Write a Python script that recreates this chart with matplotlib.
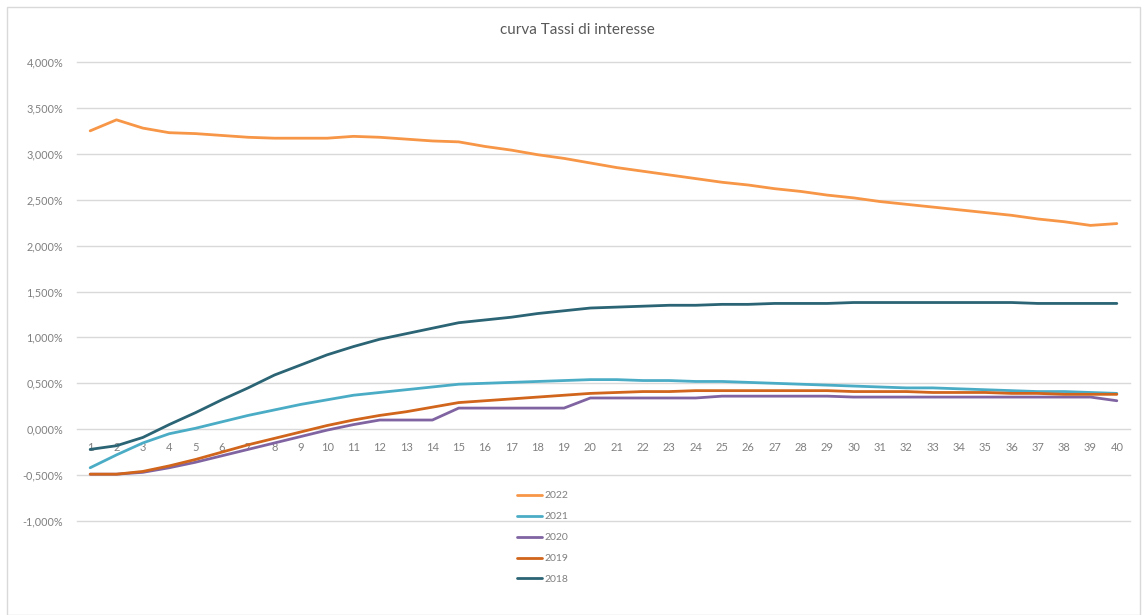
import matplotlib
matplotlib.use("Agg")
import matplotlib.pyplot as plt
import numpy as np
from matplotlib.ticker import FuncFormatter, MultipleLocator
from matplotlib.patches import Rectangle

plt.rcParams['font.family'] = ['Lato', 'DejaVu Sans']

# maturities 1..40
scadenze = list(range(1, 41))

tassi_2022 = [3.25, 3.37, 3.28, 3.23, 3.22, 3.20, 3.18, 3.17, 3.17, 3.17,
              3.19, 3.18, 3.16, 3.14, 3.13, 3.08, 3.04, 2.99, 2.95, 2.90,
              2.85, 2.81, 2.77, 2.73, 2.69, 2.66, 2.62, 2.59, 2.55, 2.52,
              2.48, 2.45, 2.42, 2.39, 2.36, 2.33, 2.29, 2.26, 2.22, 2.24]
tassi_2021 = [-0.42, -0.28, -0.15, -0.05, 0.01, 0.08, 0.15, 0.21, 0.27, 0.32,
              0.37, 0.40, 0.43, 0.46, 0.49, 0.50, 0.51, 0.52, 0.53, 0.54,
              0.54, 0.53, 0.53, 0.52, 0.52, 0.51, 0.50, 0.49, 0.48, 0.47,
              0.46, 0.45, 0.45, 0.44, 0.43, 0.42, 0.41, 0.41, 0.40, 0.39]
tassi_2020 = [-0.49, -0.49, -0.47, -0.42, -0.36, -0.29, -0.22, -0.15, -0.08, -0.01,
              0.05, 0.10, 0.10, 0.10, 0.23, 0.23, 0.23, 0.23, 0.23, 0.34,
              0.34, 0.34, 0.34, 0.34, 0.36, 0.36, 0.36, 0.36, 0.36, 0.35,
              0.35, 0.35, 0.35, 0.35, 0.35, 0.35, 0.35, 0.35, 0.35, 0.31]
tassi_2019 = [-0.49, -0.49, -0.46, -0.40, -0.33, -0.25, -0.17, -0.10, -0.03, 0.04,
              0.10, 0.15, 0.19, 0.24, 0.29, 0.31, 0.33, 0.35, 0.37, 0.39,
              0.40, 0.41, 0.41, 0.42, 0.42, 0.42, 0.42, 0.42, 0.42, 0.41,
              0.41, 0.41, 0.40, 0.40, 0.40, 0.39, 0.39, 0.38, 0.38, 0.38]
tassi_2018 = [-0.22, -0.18, -0.09, 0.05, 0.18, 0.32, 0.45, 0.59, 0.70, 0.81,
              0.90, 0.98, 1.04, 1.10, 1.16, 1.19, 1.22, 1.26, 1.29, 1.32,
              1.33, 1.34, 1.35, 1.35, 1.36, 1.36, 1.37, 1.37, 1.37, 1.38,
              1.38, 1.38, 1.38, 1.38, 1.38, 1.38, 1.37, 1.37, 1.37, 1.37]

serie = [
    ("2022", tassi_2022, "#F79646"),
    ("2021", tassi_2021, "#4BACC6"),
    ("2020", tassi_2020, "#8064A2"),
    ("2019", tassi_2019, "#D0651B"),
    ("2018", tassi_2018, "#2B6474"),
]

W, H = 1144, 615
fig = plt.figure(figsize=(W / 100, H / 100), dpi=100)
ax = fig.add_axes([77 / W, 1 - 521 / H, (1130 - 77) / W, (521 - 62) / H])

# chart frame like excel
fig.patches.append(Rectangle((7 / W, 0), (1140 - 7) / W, 1 - 7 / H,
                             transform=fig.transFigure, fill=False,
                             edgecolor="#D9D9D9", lw=1.0))

for nome, valori, colore in serie:
    ax.plot(scadenze, valori, color=colore, lw=2.0, label=nome, solid_capstyle="round")

ax.set_xlim(0.5, 40.5)
ax.set_ylim(-1.0, 4.0)
ax.yaxis.set_major_locator(MultipleLocator(0.5))
ax.yaxis.set_major_formatter(FuncFormatter(lambda v, p: f"{v:.3f}%".replace(".", ",")))
ax.grid(axis="y", color="#D9D9D9", lw=1.0)
ax.set_axisbelow(True)
for gl in ax.get_ygridlines():
    gl.set_clip_on(False)
for s in ax.spines.values():
    s.set_visible(False)

ax.set_xticks(scadenze)
ax.set_xticklabels([str(s) for s in scadenze])
ax.spines["bottom"].set_position(("data", 0))
ax.tick_params(axis="x", length=0, pad=9, labelsize=8, labelcolor="#808080")
ax.tick_params(axis="y", length=0, pad=10, labelsize=7.8, labelcolor="#808080")

fig.text(577 / W, 1 - 30 / H, "curva Tassi di interesse", ha="center", va="center",
         fontsize=11, color="#595959")

leg = ax.legend(loc="upper left", bbox_to_anchor=(517 / W, 1 - 491 / H),
                bbox_transform=fig.transFigure, frameon=False, fontsize=7.5,
                handlelength=2.4, handletextpad=0.2, labelspacing=1.12,
                borderpad=0, borderaxespad=0)
for t in leg.get_texts():
    t.set_color("#808080")

fig.savefig("out.png", dpi=100)
